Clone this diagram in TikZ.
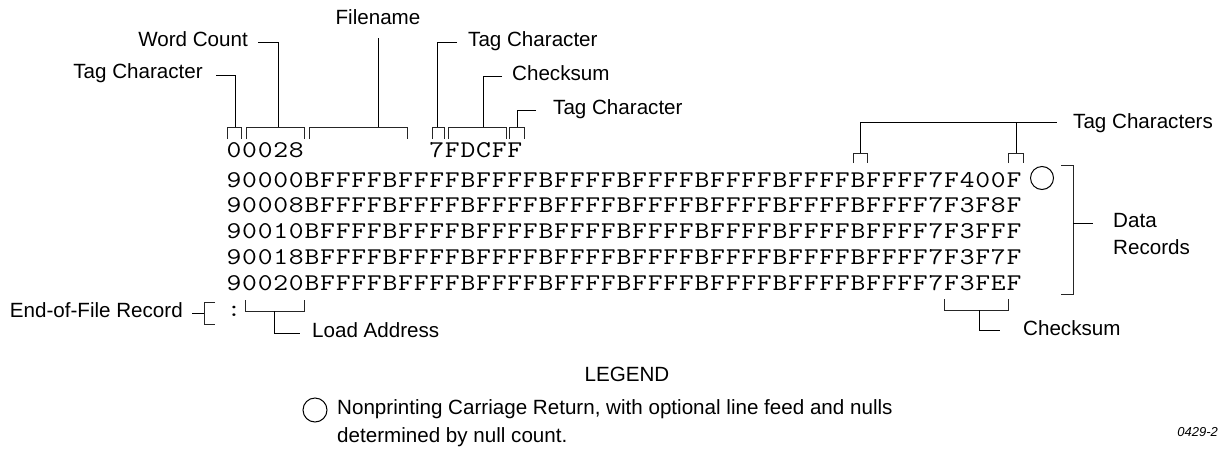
\documentclass[tikz,border=0pt]{standalone}
\usepackage{fontspec}
\usepackage{graphicx}
\setmainfont{Liberation Sans}
\def\mttloop#1{\ifx\relax#1\else\makebox[15.6pt][c]{\scalebox{1.2}[1]{#1}}\expandafter\mttloop\fi}
\newcommand\mtt[1]{\mttloop#1\relax}
\begin{document}
\begin{tikzpicture}[x=1pt,y=-1pt,
  lbl/.style={font=\fontsize{20.6}{24}\selectfont, inner sep=0pt},
  mono/.style={font=\ttfamily\fontsize{24}{24}\selectfont, inner sep=0pt, anchor=base west},
  ln/.style={line width=1pt, black},
  brk/.style={line width=1pt, black!85},
  crc/.style={draw, circle, inner sep=0pt, line width=1pt},
]
\useasboundingbox (0,0) rectangle (1225,450);

% code rows
\node[mono] (r0a) at (226,157) {\mtt{00028}};
\node[mono] (r0b) at (428.8,157) {\mtt{7FDCFF}};
\node[mono] (d1) at (226,187) {\mtt{90000BFFFFBFFFFBFFFFBFFFFBFFFFBFFFFBFFFFBFFFF7F400F}};
\node[mono] (d2) at (226,212.75) {\mtt{90008BFFFFBFFFFBFFFFBFFFFBFFFFBFFFFBFFFFBFFFF7F3F8F}};
\node[mono] (d3) at (226,238.5) {\mtt{90010BFFFFBFFFFBFFFFBFFFFBFFFFBFFFFBFFFFBFFFF7F3FFF}};
\node[mono] (d4) at (226,264.25) {\mtt{90018BFFFFBFFFFBFFFFBFFFFBFFFFBFFFFBFFFFBFFFF7F3F7F}};
\node[mono] (d5) at (226,290) {\mtt{90020BFFFFBFFFFBFFFFBFFFFBFFFFBFFFFBFFFFBFFFF7F3FEF}};
\node[mono] (colon) at (226,316) {\mtt{:}};
\node[crc, minimum size=23pt] (cr) at (1042,178) {};

% labels
\node[lbl, anchor=mid] (fn) at (378,22) {Filename};
\node[lbl, anchor=mid east] (wc) at (248,43.5) {Word Count};
\node[lbl, anchor=mid east] (tc1) at (203,75.5) {Tag Character};
\node[lbl, anchor=mid west] (tc2) at (468,43.5) {Tag Character};
\node[lbl, anchor=mid west] (cs1) at (512,77.5) {Checksum};
\node[lbl, anchor=mid west] (tc3) at (553,111.5) {Tag Character};
\node[lbl, anchor=mid west] (tcs) at (1073,126) {Tag Characters};
\node[lbl, anchor=mid west] (data) at (1113,225) {Data};
\node[lbl, anchor=mid west] (rec) at (1113,252) {Records};
\node[lbl, anchor=mid east] (eof) at (183,315) {End-of-File Record};
\node[lbl, anchor=mid west] (la) at (312,335) {Load Address};
\node[lbl, anchor=mid west] (cs2) at (1023,333) {Checksum};
\node[lbl, anchor=mid] (leg) at (627,379) {LEGEND};
\node[crc, minimum size=24pt] (lc) at (315,410) {};
\node[lbl, anchor=mid west] (leg1) at (337,412) {Nonprinting Carriage Return, with optional line feed and nulls};
\node[lbl, anchor=mid west] (leg2) at (337,440) {determined by null count.};
\node[font=\itshape\fontsize{13}{15}\selectfont, anchor=mid east, inner sep=0pt] (fig) at (1218,434) {0429-2};

% bracket tick coordinates
\coordinate (k1) at (235,127);
\coordinate (k2) at (278.5,127);
\coordinate (k3) at (378,127);
\coordinate (k4) at (437.5,127);
\coordinate (k5) at (483,127);
\coordinate (k6) at (517.5,127);
\coordinate (k7) at (860,153);
\coordinate (k8) at (1016.5,153);

% top brackets
\draw[brk] (227,139) -- (227,127) -- (241,127) -- (241,139);
\draw[brk] (246,139) -- (246,127) -- (304,127) -- (304,139);
\draw[brk] (309,139) -- (309,127) -- (407,127) -- (407,139);
\draw[brk] (432,139) -- (432,127) -- (444,127) -- (444,139);
\draw[brk] (448,139) -- (448,127) -- (506,127) -- (506,139);
\draw[brk] (509,139) -- (509,127) -- (524,127) -- (524,139);
\draw[brk] (853,163) -- (853,153) -- (867,153) -- (867,163);
\draw[brk] (1008,163) -- (1008,153) -- (1023,153) -- (1023,163);

% callout lines
\draw[ln] ([xshift=13pt]tc1.mid east |- 0,75) -| (k1);
\draw[ln] ([xshift=10pt]wc.mid east |- 0,42) -| (k2);
\draw[ln] (fn.south |- 0,38) -- (k3);
\draw[ln] ([xshift=-11pt]tc2.mid west |- 0,42) -| (k4);
\draw[ln] ([xshift=-10pt]cs1.mid west |- 0,76) -| (k5);
\draw[ln] ([xshift=-17pt]tc3.mid west |- 0,110) -| (k6);
\draw[ln] (k7) |- ([xshift=-16pt]tcs.mid west |- 0,122);
\draw[ln] (k8) -- (k8 |- 0,122);

% data records bracket
\draw[brk] (1061,165) -- (1073,165) -- (1073,294) -- (1061,294);
\coordinate (drk) at (1073,223);
\draw[ln] (drk) -- ([xshift=-20pt]data.mid west |- drk);

% end-of-file
\coordinate (eofk) at (204,313);
\draw[ln] ([xshift=9pt]eof.mid east |- eofk) -- (eofk);
\draw[brk] (215,302) -- (204,302) -- (204,324) -- (215,324);

% load address
\draw[brk] (245,300) -- (245,311) -- (304,311) -- (304,300);
\coordinate (lak) at (274,311);
\draw[ln] (lak) |- ([xshift=-12pt]la.mid west |- 0,333);

% bottom checksum
\draw[brk] (944,299) -- (944,310) -- (1008,310) -- (1008,299);
\coordinate (csk) at (979,310);
\draw[ln] (csk) |- ([xshift=-23pt]cs2.mid west |- 0,330);
\end{tikzpicture}
\end{document}
